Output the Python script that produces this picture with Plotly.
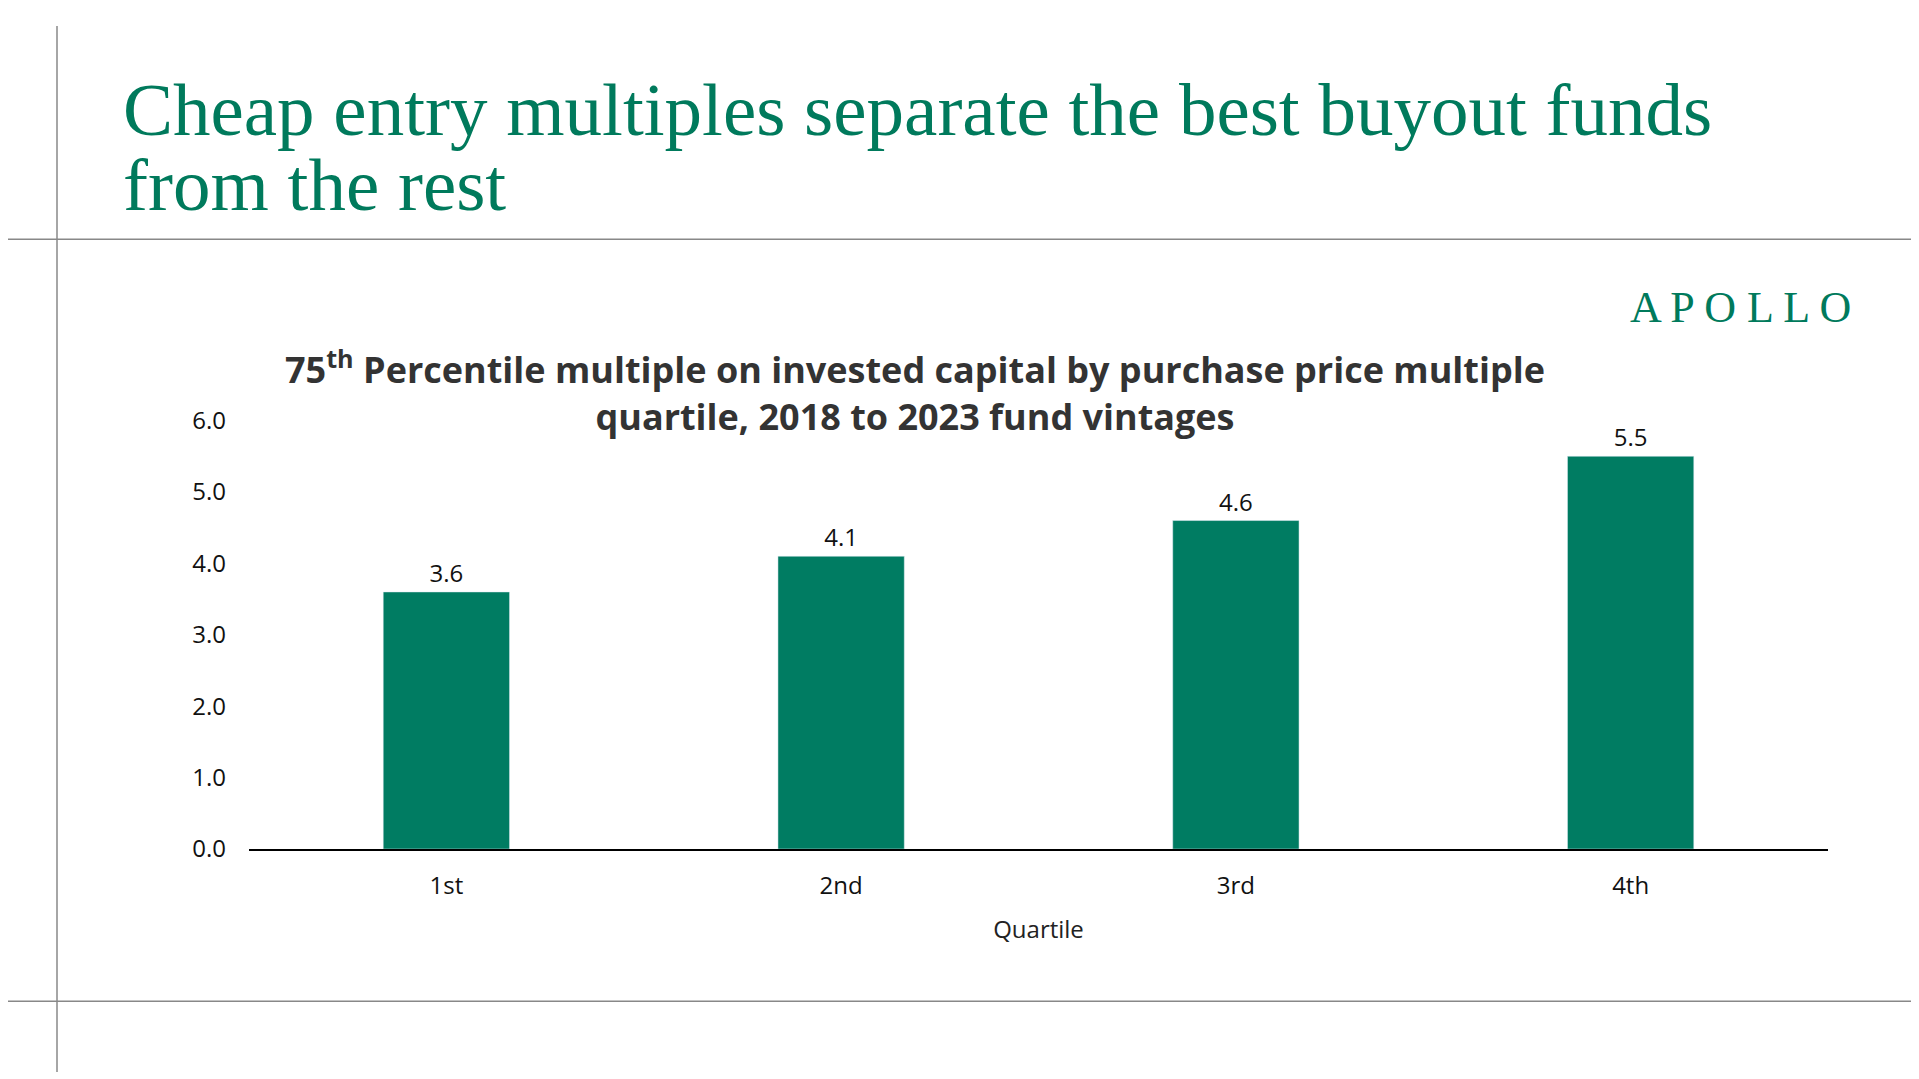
import plotly.graph_objects as go

categories = ["1st", "2nd", "3rd", "4th"]
values = [3.6, 4.1, 4.6, 5.5]
y_ticks = [0, 1, 2, 3, 4, 5, 6]

W, H = 1919, 1079
GREEN = "#007C62"

fig = go.Figure(go.Bar(
    x=categories, y=values, marker_color=GREEN, width=0.32,
    text=[f"{v:.1f}" for v in values], textposition="outside",
    textfont=dict(family="Open Sans", size=24, color="#111"), cliponaxis=False,
))

def py(y):
    return 1 - y / H

fig.update_layout(
    width=W, height=H, margin=dict(l=0, r=0, t=0, b=0),
    paper_bgcolor="white", plot_bgcolor="white", showlegend=False,
    xaxis=dict(domain=[241 / W, 1820 / W], showline=True, linecolor="#000", linewidth=1.5,
               tickfont=dict(family="Open Sans", size=24, color="#111"), ticks="outside",
               ticklen=14, tickcolor="rgba(0,0,0,0)",
               title=dict(text="Quartile", font=dict(family="Open Sans", size=24, color="#222"), standoff=22)),
    yaxis=dict(domain=[py(849), py(407)], range=[0, 6], tickvals=y_ticks, tickformat=".1f",
               showgrid=False, zeroline=False, showline=False, ticks="", ticklabelstandoff=22,
               tickfont=dict(family="Open Sans", size=24, color="#111")),
    font=dict(family="Open Sans"),
)

for txt, yc in [("Cheap entry multiples separate the best buyout funds", 86), ("from the rest", 163)]:
    fig.add_annotation(x=113 / W, y=py(yc), xref="paper", yref="paper", xanchor="left", yanchor="middle",
                       align="left", showarrow=False, text=txt,
                       font=dict(family="Liberation Serif", size=75, color="#007A5C"))
fig.add_annotation(x=1845 / W, y=py(290), xref="paper", yref="paper", xanchor="right", yanchor="middle",
                   showarrow=False, text="A P O L L O",
                   font=dict(family="Liberation Serif", size=44, color="#007A5C"))
fig.add_annotation(x=907 / W, y=py(377), xref="paper", yref="paper", xanchor="center", yanchor="middle",
                   showarrow=False, align="center",
                   text="<b>75<sup>th</sup> Percentile multiple on invested capital by purchase price multiple<br>quartile, 2018 to 2023 fund vintages</b>",
                   font=dict(family="Open Sans", size=36, color="#333"))

fig.add_shape(type="line", xref="paper", yref="paper", x0=0, x1=1, y0=py(220), y1=py(220),
              line=dict(color="#888", width=1.5))
fig.add_shape(type="line", xref="paper", yref="paper", x0=0, x1=1, y0=py(1006), y1=py(1006),
              line=dict(color="#888", width=1.5))
fig.add_shape(type="line", xref="paper", yref="paper", x0=49 / W, x1=49 / W, y0=0, y1=1,
              line=dict(color="#888", width=1.5))

fig.write_html("out.html")
